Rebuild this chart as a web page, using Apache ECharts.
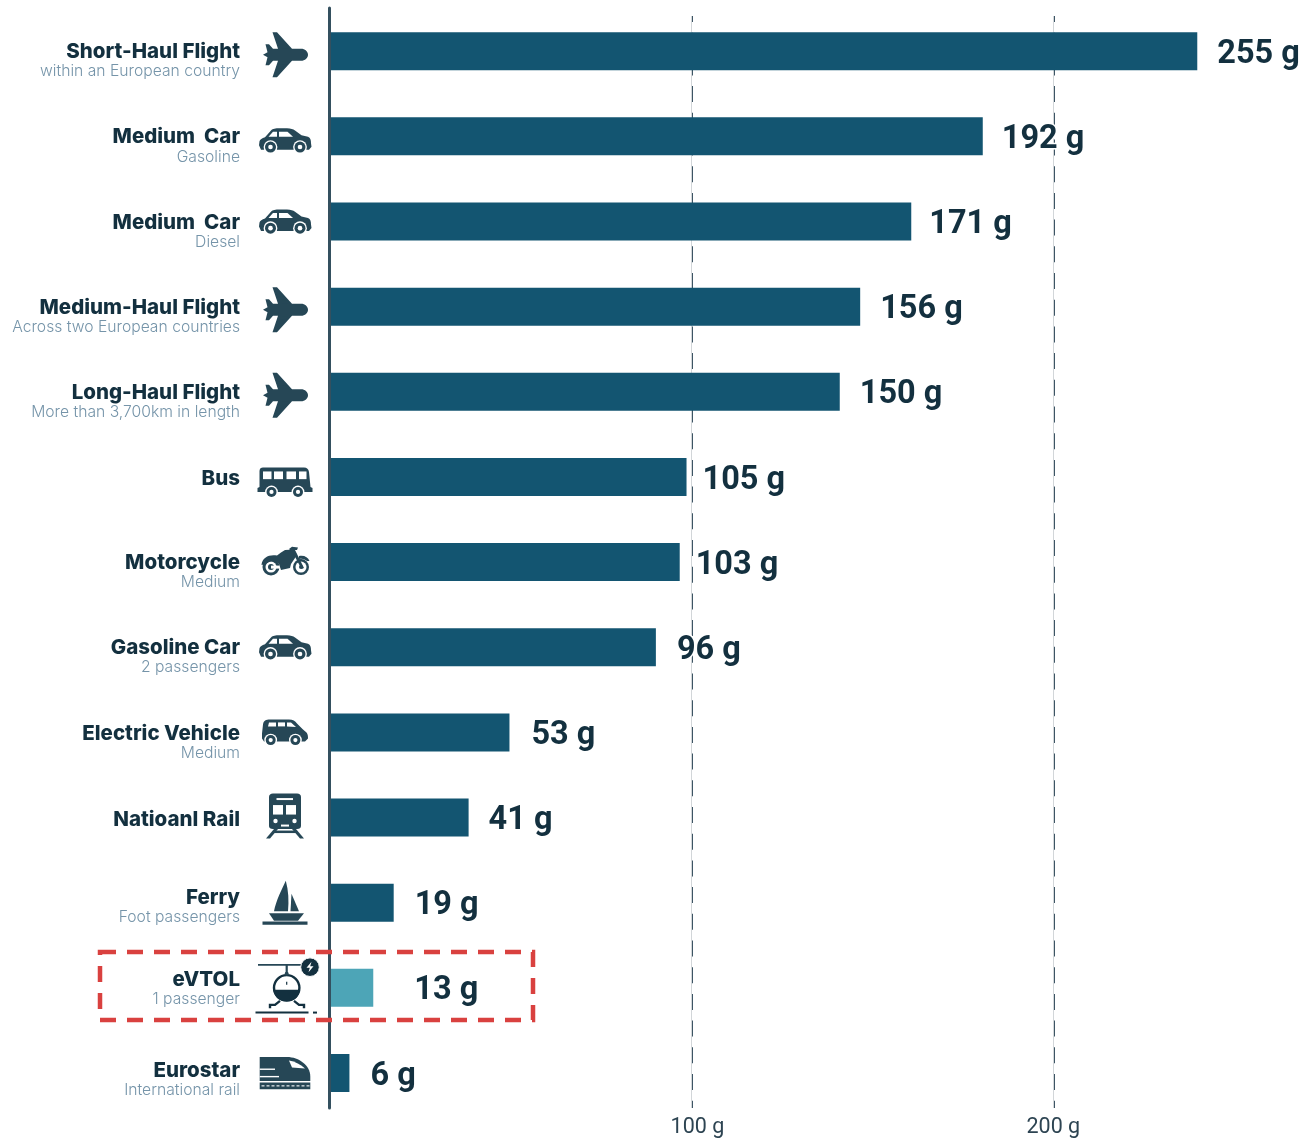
<!DOCTYPE html>
<html><head><meta charset="utf-8">
<style>html,body{margin:0;padding:0;background:#fff}#c{width:1304px;height:1141px}</style>
<script src="https://cdn.jsdelivr.net/npm/echarts@6/dist/echarts.min.js"></script>
</head><body><div id="c"></div>
<script>
const categories = ['Short-Haul Flight','Medium  Car','Medium  Car','Medium-Haul Flight','Long-Haul Flight','Bus','Motorcycle','Gasoline Car','Electric Vehicle','Natioanl Rail','Ferry','eVTOL','Eurostar'];
const subtitles = ['within an European country','Gasoline','Diesel','Across two European countries','More than 3,700km in length','','Medium','2 passengers','Medium','','Foot passengers','1 passenger','International rail'];
const emissions = [255,192,171,156,150,105,103,96,53,41,19,13,6];
const tickValues = [100,200];
const iconNames = ['plane','car','car','plane','plane','bus','moto','car','ev','train','boat','heli','euro'];

const HIGHLIGHT = 11;
const labelGaps = [20,19,18,20,20,16,16,21,22,20,21,41,21];
const iconDy = [3.5,4,0,3,3.5,5,-1,0,0,-1.5,0,0,1.5];
const titleLift = {10:9, 11:2, 12:15};
const DARK='#13303f', SUB='#7594a9', ICON='#264756', BAR='#135571', TEAL='#4da5b7', RED='#d9413f';
const TITLE_FONT='Inter', SUB_FONT='Inter', NUM_FONT='Roboto';

function p(d,fill,stroke,lw){return {type:'path',shape:{pathData:d},style:{fill:fill||ICON,stroke:stroke||null,lineWidth:lw||0}};}
function c(x,y,r,fill,stroke,lw){return {type:'circle',shape:{cx:x,cy:y,r:r},style:{fill:fill||ICON,stroke:stroke||null,lineWidth:lw||0}};}
function wheel(x,y,r){return [c(x,y,r+1.4,'#fff'),c(x,y,r),c(x,y,r*0.42,'#fff')];}
function rect(x0,y0,x1,y1,fill){return p(`M${x0} ${y0}L${x1} ${y0}L${x1} ${y1}L${x0} ${y1}Z`,fill);}
const icons = {
 plane:[
  p('M23 0C23 3.3 20 6 16 6L7 6L-8 22.5L-12.5 22.5L-7 6L-12 6L-16 10.5L-19.5 10.5L-17.5 2.5L-22 0L-17.5 -2.5L-19.5 -10.5L-16 -10.5L-12 -6L-7 -6L-12.5 -22.5L-8 -22.5L7 -6L16 -6C20 -6 23 -3.3 23 0Z'),
  rect(-7,-13.5,-1.5,-10),rect(-3,-9.5,3,-6.5),rect(-7,10,-1.5,13.5),rect(-3,6.5,3,9.5)],
 car:[
  p('M-26 5L-25.5 1C-25 -1 -23 -2 -20 -3L-14 -9.8C-12 -11.7 -10 -12 -5 -12L2 -12C6 -12 8 -11 10 -9.8L16.5 -5L23 -3.5C25.5 -2.5 26 0 26 3L26.5 6.5L24 9.5L-24 9.5Z'),
  p('M-16.5 -3.5L-12 -8.5L-8 -8.5L-8 -3.5Z','#fff'),
  p('M-6 -8.5L2.5 -8.5L8 -3.5L-6 -3.5Z','#fff'),
  ...wheel(-14.5,6.7,5.5),...wheel(15,6.7,5.5)],
 bus:[
  p('M-25.5 -11C-25.5 -13.5 -24 -14.5 -22 -14.5L19 -14.5C22 -14.5 23.5 -13 24 -10L25.5 5L27.5 6L27.5 10L-27.5 10L-27.5 6L-25.5 5Z'),
  rect(-22,-10.5,-13.5,-2.8,'#fff'),rect(-11,-10.5,-2,-2.8,'#fff'),rect(1.5,-10.5,11,-2.8,'#fff'),rect(14,-10.5,21.5,-2.8,'#fff'),
  ...wheel(-13.5,10,5),...wheel(13,10,5)],
 moto:[
  c(-14,6,8.5),c(-14,6,5.5,'#fff'),c(-14,6,3),rect(-14,4.5,-4,7.5,'#fff'),
  c(16,6,8),c(16,6,5.5,'#fff'),c(16,6,2),
  p('M-23.5 4C-23 -4 -15 -7 -8 -5.5L-4 -8.5L0 -11L9 -11.5L12 -6L6 3L5 7L-4 9L-6 3C-9 -1 -15 -1 -19 3Z'),
  p('M4 -12L7 -14.3L13 -13.5L12 -11L10 -11L19 7L16.5 8L8 -8Z'),
  p('M14 -5C19 -6 23 -4 24.5 0L22 0C20 -2 17 -3 14 -2Z')],
 ev:[
  p('M-23 1L-22 -8C-21.5 -12 -19 -13 -15 -13L4 -13C8 -13 10 -11.5 12 -9L18 -3L21.5 0C23 2 23 4 23 6L20 9L-21 9L-23 6Z'),
  p('M-17 -6L-16 -10L-9 -10L-9 -6Z','#fff'),p('M-7 -10L0 -10L0 -6L-7 -6Z','#fff'),p('M2 -10L6 -10L11 -5.5L2 -6Z','#fff'),
  ...wheel(-14.3,7.7,5),...wheel(10.4,7.7,5)],
 train:[
  p('M-16 -19C-16 -21 -14.5 -22.5 -12 -22.5L12 -22.5C14.5 -22.5 16 -21 16 -19L16 10C16 12 14.5 13 12 13L-12 13C-14.5 13 -16 12 -16 10Z'),
  rect(-8.5,-18,8,-16,'#fff'),rect(-12,-11,-2,-1.5,'#fff'),rect(1,-11,11,-1.5,'#fff'),
  c(-9.5,5,2.2,'#fff'),c(9.5,5,2.2,'#fff'),rect(-4,8.5,4,10.5,'#fff'),
  p('M-11 13L-7 13L-15 22.5L-19 22.5Z'),p('M11 13L7 13L15 22.5L19 22.5Z'),rect(-11,14.5,11,17)],
 boat:[
  p('M0.8 -22C3.5 -12 4 -2 3 8.5L-11 8.5C-9 -2 -3 -14 0.8 -22Z'),
  p('M6.5 -9L14 8.5L5.5 8.5Z'),
  p('M-16 10.5L19 10.5L13 18L-11 18Z'),
  rect(-22.5,18.8,22.5,22)],
 heli:[
  p('M-27 -23L16 -23','none',ICON,1.6),p('M1.7 -23L1.7 -13','none',ICON,2.2),
  c(1.7,0,12.7,'#fff',DARK,2.4),
  p('M-11.5 2L14.9 2C14.5 9 9 13.5 1.7 13.5C-5.5 13.5 -11 9 -11.5 2Z',DARK),
  p('M1.7 -6L1.7 -3','none',DARK,1.2),
  c(1.7,-14,2,ICON),
  p('M-5 13L-10 17L-15 17L-15 20.5M9 13L14 17L19 17L19 20.5','none',DARK,2.4),
  p('M-29.5 24.7L23.5 24.7','none',DARK,2),p('M28 24.7L32 24.7','none',DARK,2),
  c(25,-20.7,9.3,DARK,'#fff',1),
  p('M26.5 -26L21.5 -20L24.8 -20L23.5 -15.5L28.5 -21.5L25.2 -21.5Z','#fff')],
 euro:[
  p('M-25.3 -17.5L2 -17.5C14 -17.5 25.3 -9 25.3 2L25.3 6.5L-25.3 6.5Z'),
  p('M4 -14C10 -13 16 -10 20 -6L7 -7Z','#fff'),
  rect(-25.3,-6,-10,-4.6,'#fff'),rect(-25.3,1.4,-6,2.8,'#fff'),
  rect(-25.3,8,25.3,14.7),
  ...[-22,-17,-12,-7,-2,3,8,13,18,23].map(x=>rect(x-1.5,10.8,x+1.5,11.9,'#fff'))]
};

function yLabel(value,i){
  const sub = subtitles[i];
  if(!sub) return `{pad| }\n{title|${value}}`;
  const lift = titleLift[i];
  if(lift) return `{gap${lift}| }\n{title|${value}}\n{sub|${sub}}`;
  return `{gap| }\n{title|${value}}\n{sub|${sub}}`;
}

const iconX = 285;
const chart = echarts.init(document.getElementById('c'),null,{renderer:'canvas'});
chart.setOption({
  animation:false,
  backgroundColor:'#fff',
  grid:[
    {left:329,top:8.6,width:953.4,height:1107},
    {left:329.5,top:16,width:723.8,height:1092},
    {left:329.5,top:8,width:10,height:1100}
  ],
  xAxis:[
    {gridIndex:0,type:'value',min:0,max:280,show:false},
    {gridIndex:1,type:'value',min:0,max:200,interval:100,position:'bottom',
      axisLine:{show:false},axisTick:{show:false},
      splitLine:{show:true,showMinLine:false,lineStyle:{color:'#3d5564',width:2,type:[16,10.7],dashOffset:10}},
      axisLabel:{show:true,showMinLabel:false,margin:9,color:'#2d4452',fontFamily:NUM_FONT,fontSize:21.5,
        formatter:v=>tickValues.includes(v)?(v===tickValues[0]?`{shift|${v} g}`:`${v} g`):'',
        rich:{shift:{color:'#2d4452',fontFamily:NUM_FONT,fontSize:21.5,padding:[0,0,0,12]}}}},
    {gridIndex:1,type:'value',min:0,max:200,interval:100,position:'top',
      axisLine:{show:false},axisTick:{show:false},axisLabel:{show:false},
      splitLine:{show:true,showMinLine:false,lineStyle:{color:'#d2d6d9',width:1,type:'solid'}}},
    {gridIndex:2,type:'value',min:0,max:1,show:false}
  ],
  yAxis:[
    {gridIndex:0,type:'category',inverse:true,data:categories,
      axisLine:{show:false},axisTick:{show:false},splitLine:{show:false},
      axisLabel:{margin:89,align:'right',interval:0,formatter:yLabel,
        rich:{
          title:{fontFamily:TITLE_FONT,fontWeight:800,fontSize:20.5,color:DARK,lineHeight:20,align:'right'},
          sub:{fontFamily:SUB_FONT,fontWeight:300,fontSize:15.7,color:SUB,lineHeight:19,align:'right'},
          gap:{fontSize:10,lineHeight:21},
          pad:{fontSize:4,lineHeight:4},
          gap9:{fontSize:4,lineHeight:9},
          gap2:{fontSize:2,lineHeight:2},
          gap15:{fontSize:4,lineHeight:15}
        }}},
    {gridIndex:1,type:'value',show:false},
    {gridIndex:2,type:'value',min:0,max:1,position:'left',
      axisLine:{show:true,onZero:false,lineStyle:{color:'#34505f',width:3}},axisTick:{show:false},axisLabel:{show:false},splitLine:{show:false},z:20}
  ],
  series:[{
    type:'bar',xAxisIndex:0,yAxisIndex:0,barWidth:38,z:5,
    data:emissions.map((v,i)=>({value:v,
      itemStyle:{color:i===HIGHLIGHT?TEAL:BAR},
      label:{distance:labelGaps[i]}})),
    label:{show:true,position:'right',formatter:'{c} g',fontFamily:NUM_FONT,fontWeight:700,fontSize:32.5,color:DARK,
      textBorderColor:'#fff',textBorderWidth:3,offset:[0,3.5]}
  },{
    type:'custom',xAxisIndex:0,yAxisIndex:0,clip:false,silent:true,z:30,
    data:iconNames.map((n,i)=>[0,i]),
    encode:{x:0,y:1},
    renderItem:function(params,api){
      const i = api.value(1);
      const y = api.coord([0,i])[1]+iconDy[i];
      return {type:'group',x:iconX,y:y,children:icons[iconNames[i]]};
    }
  }],
  graphic:[{type:'rect',z:40,shape:{x:100,y:952,width:433,height:68},
    style:{fill:'none',stroke:RED,lineWidth:4.5,lineDash:[16,11]}}]
});
</script></body></html>
